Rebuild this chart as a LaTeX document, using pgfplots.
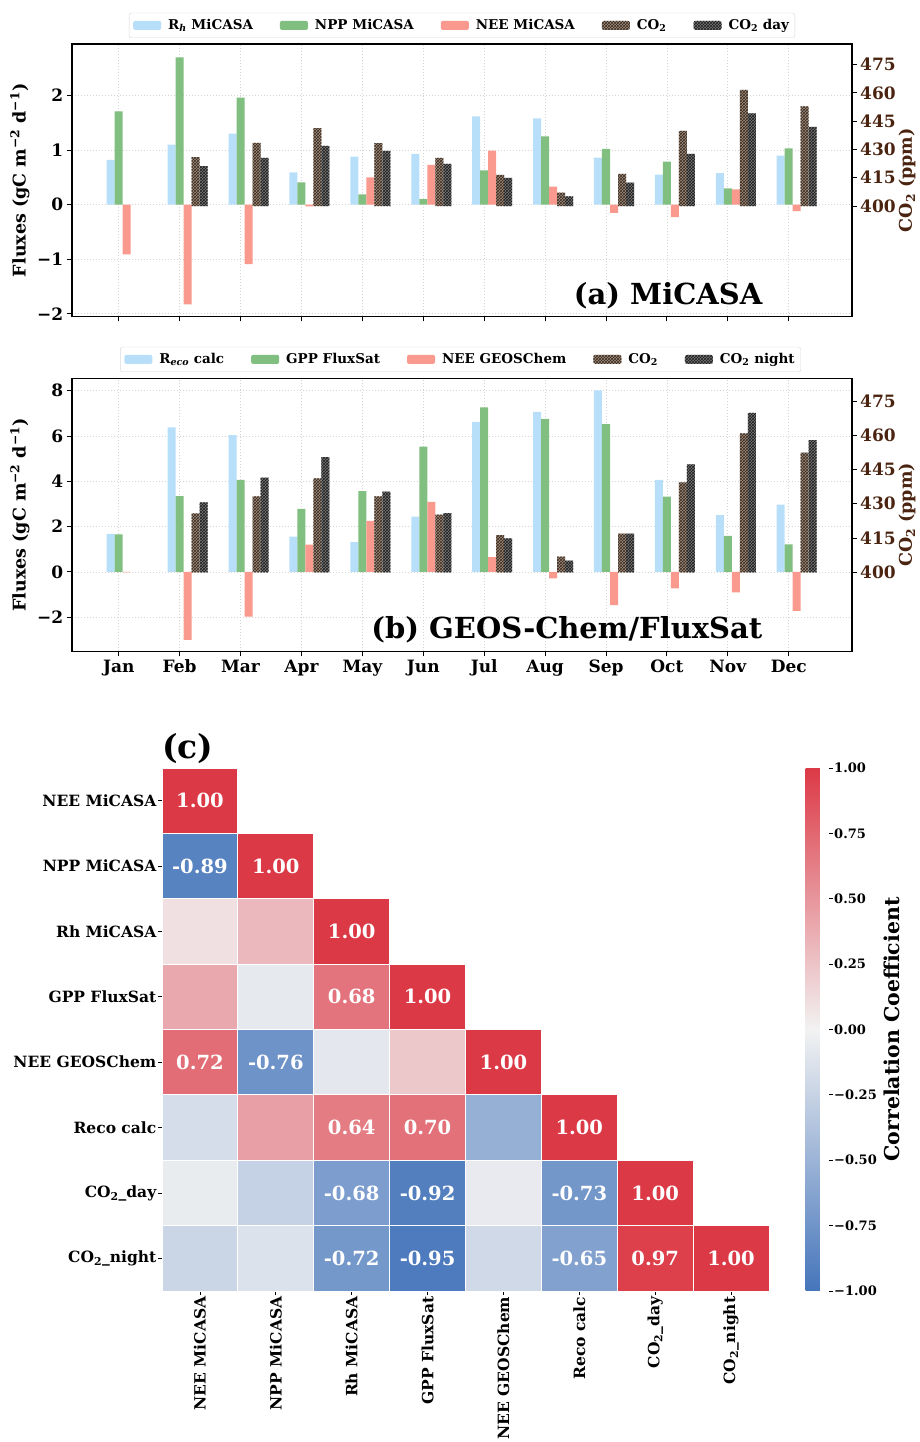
\documentclass[border=0pt]{standalone}
\usepackage{pgfplots}
\pgfplotsset{compat=1.18}
\usetikzlibrary{patterns}
\usepackage{fontspec}
\setmainfont{DejaVu Serif}
\definecolor{rhc}{HTML}{B8DFFA}
\definecolor{nppc}{HTML}{80BF80}
\definecolor{neec}{HTML}{FA9A8E}
\definecolor{co2c}{HTML}{A08D7C}
\definecolor{co2p}{HTML}{3A2B22}
\definecolor{dayc}{HTML}{777777}
\definecolor{dayp}{HTML}{1E1E1E}
\definecolor{ppmc}{HTML}{4A2410}
\definecolor{gridc}{HTML}{D5D5D5}
\newcommand{\fs}[1]{\fontsize{#1}{#1}\selectfont\bfseries}
\pgfdeclareplotmark{cell}{\pgfpathrectangle{\pgfpoint{-37.94pt}{-32.69pt}}{\pgfpoint{75.875pt}{65.375pt}}\pgfusepathqfillstroke}
\pgfplotsset{
  barleg/.style={legend image code/.code={\path[##1, draw=none] (0pt,-4.5pt) rectangle (28pt,4.5pt);}},
  common/.style={
    scale only axis, width=780pt,
    xmin=-0.772, xmax=12.034,
    ybar, bar width=0.1314,
    tick align=outside, major tick length=5pt,
    tick style={line width=1pt, black},
    xtick={0,...,11},
  },
  leftax/.style={
    common,
    axis line style={line width=1.6pt},
    grid=major, grid style={gridc, dash pattern=on 1.5pt off 1.5pt, line width=0.8pt},
    ticklabel style={font=\fs{17}},
    xtick pos=bottom, ytick pos=left,
    ylabel={Fluxes (gC m\textsuperscript{−2} d\textsuperscript{−1})},
    ylabel style={font=\fs{17.5}, at={(axis description cs:-0.0663,0.5)}, anchor=center},
    legend columns=5,
    legend style={draw=gray!30, rounded corners=2pt, fill=white, font=\fs{13.5},
      inner xsep=4pt, inner ysep=4.5pt,
      /tikz/every odd column/.append style={column sep=5pt},
      /tikz/every even column/.append style={column sep=25pt}},
  },
  rightax/.style={
    common,
    axis x line=none, axis y line*=right,
    axis line style={line width=1.6pt},
    tick align=outside,
    y coord trafo/.code={\pgfmathparse{##1-400}},
    y coord inv trafo/.code={\pgfmathparse{##1+400}},
    ytick={400,415,430,445,460,475},
    yticklabels={400,415,430,445,460,475},
    yticklabel style={font=\fs{17}, text=ppmc},
    ylabel={CO\textsubscript{2} (ppm)},
    ylabel style={font=\fs{17.5}, text=ppmc, at={(axis description cs:1.071,0.5)}, anchor=center},
  },
}
\begin{document}
\begin{tikzpicture}
\path[use as bounding box] (0,0) rectangle (920pt,1442pt);
% ---------------- panel (a) -----------------
\begin{axis}[leftax, height=272.5pt, at={(71.7pt,1125.5pt)}, anchor=south west,
  ymin=-2.05, ymax=2.945, ytick={-2,-1,0,1,2}, yticklabels={−2,−1,0,1,2},
  xticklabels={},
  legend style={at={(0.5004,1)}, anchor=south, yshift=6pt}]
\addplot[barleg, fill=rhc, draw=none, bar shift=-0.1314] coordinates {
(0,0.82) (1,1.10) (2,1.30) (3,0.59) (4,0.88) (5,0.93) (6,1.62) (7,1.58) (8,0.86) (9,0.55) (10,0.58) (11,0.90)};
\addlegendentry{R\textsubscript{\textit{h}} MiCASA}
\addplot[barleg, fill=nppc, draw=none, bar shift=0] coordinates {
(0,1.71) (1,2.70) (2,1.96) (3,0.41) (4,0.19) (5,0.10) (6,0.63) (7,1.25) (8,1.02) (9,0.79) (10,0.30) (11,1.03)};
\addlegendentry{NPP MiCASA}
\addplot[barleg, fill=neec, draw=none, bar shift=0.1314] coordinates {
(0,-0.91) (1,-1.83) (2,-1.09) (3,-0.03) (4,0.50) (5,0.73) (6,0.99) (7,0.33) (8,-0.15) (9,-0.23) (10,0.28) (11,-0.12)};
\addlegendentry{NEE MiCASA}
\addlegendimage{barleg, fill=co2c, draw=none, postaction={pattern=crosshatch, pattern color=co2p}}
\addlegendentry{CO\textsubscript{2}}
\addlegendimage{barleg, fill=dayc, draw=none, postaction={pattern=crosshatch, pattern color=dayp}}
\addlegendentry{CO\textsubscript{2} day}
\node[anchor=east, font=\fs{29}] at (rel axis cs:0.890,0.077) {(a) MiCASA};
\node[anchor=south west, font=\fontsize{5}{5}\selectfont, text=gray, inner sep=0.5pt] at (axis description cs:0,1) {1e6};
\end{axis}
\begin{axis}[rightax, height=272.5pt, at={(71.7pt,1125.5pt)}, anchor=south west,
  ymin=341.5, ymax=485.9]
\addplot[fill=co2c, draw=none, bar shift=0.2628, postaction={pattern=crosshatch, pattern color=co2p}] coordinates {
(1,425.9) (2,433.5) (3,441.3) (4,433.4) (5,425.6) (6,416.6) (7,407.1) (8,417.1) (9,439.9) (10,461.6) (11,452.8)};
\addplot[fill=dayc, draw=none, bar shift=0.3942, postaction={pattern=crosshatch, pattern color=dayp}] coordinates {
(1,421.2) (2,425.6) (3,431.9) (4,429.3) (5,422.4) (6,415.0) (7,405.1) (8,412.4) (9,427.7) (10,449.1) (11,442.0)};
\end{axis}
% ---------------- panel (b) -----------------
\begin{axis}[leftax, height=273pt, at={(71.7pt,790.5pt)}, anchor=south west,
  ymin=-3.51, ymax=8.54, ytick={-2,0,2,4,6,8}, yticklabels={−2,0,2,4,6,8},
  xticklabels={Jan,Feb,Mar,Apr,May,Jun,Jul,Aug,Sep,Oct,Nov,Dec},
  legend style={at={(0.4985,1)}, anchor=south, yshift=6.5pt}]
\addplot[barleg, fill=rhc, draw=none, bar shift=-0.1314] coordinates {
(0,1.68) (1,6.38) (2,6.04) (3,1.56) (4,1.32) (5,2.44) (6,6.63) (7,7.07) (8,8.01) (9,4.07) (10,2.51) (11,2.97)};
\addlegendentry{R\textsubscript{\textit{eco}} calc}
\addplot[barleg, fill=nppc, draw=none, bar shift=0] coordinates {
(0,1.66) (1,3.35) (2,4.06) (3,2.79) (4,3.57) (5,5.53) (6,7.26) (7,6.76) (8,6.53) (9,3.32) (10,1.59) (11,1.22)};
\addlegendentry{GPP FluxSat}
\addplot[barleg, fill=neec, draw=none, bar shift=0.1314] coordinates {
(0,-0.02) (1,-3.00) (2,-1.97) (3,1.21) (4,2.25) (5,3.09) (6,0.65) (7,-0.28) (8,-1.46) (9,-0.72) (10,-0.90) (11,-1.72)};
\addlegendentry{NEE GEOSChem}
\addlegendimage{barleg, fill=co2c, draw=none, postaction={pattern=crosshatch, pattern color=co2p}}
\addlegendentry{CO\textsubscript{2}}
\addlegendimage{barleg, fill=dayc, draw=none, postaction={pattern=crosshatch, pattern color=dayp}}
\addlegendentry{CO\textsubscript{2} night}
\node[anchor=east, font=\fs{29}] at (rel axis cs:0.890,0.081) {(b) GEOS-Chem/FluxSat};
\end{axis}
\begin{axis}[rightax, height=273pt, at={(71.7pt,790.5pt)}, anchor=south west,
  ymin=365.3, ymax=484.9]
\addplot[fill=co2c, draw=none, bar shift=0.2628, postaction={pattern=crosshatch, pattern color=co2p}] coordinates {
(1,425.8) (2,433.3) (3,441.1) (4,433.2) (5,425.3) (6,416.3) (7,406.9) (8,416.9) (9,439.4) (10,460.9) (11,452.4)};
\addplot[fill=dayc, draw=none, bar shift=0.3942, postaction={pattern=crosshatch, pattern color=dayp}] coordinates {
(1,430.6) (2,441.5) (3,450.5) (4,435.3) (5,425.9) (6,414.9) (7,405.1) (8,416.9) (9,447.3) (10,469.8) (11,457.9)};
\end{axis}
% ---------------- panel (c) -----------------
\begin{axis}[at={(162pt,151pt)}, anchor=south west, scale only axis, width=607pt, height=523pt,
  xmin=-0.5, xmax=7.5, ymin=-0.5, ymax=7.5, y dir=reverse,
  axis line style={draw=none}, clip=false,
  tick align=outside, major tick length=4pt, tick style={black, line width=0.8pt},
  xtick={0,...,7}, ytick={0,...,7}, xtick pos=bottom, ytick pos=left,
  xticklabels={NEE MiCASA,NPP MiCASA,Rh MiCASA,GPP FluxSat,NEE GEOSChem,Reco calc,CO\textsubscript{2}\_day,CO\textsubscript{2}\_night},
  yticklabels={NEE MiCASA,NPP MiCASA,Rh MiCASA,GPP FluxSat,NEE GEOSChem,Reco calc,CO\textsubscript{2}\_day,CO\textsubscript{2}\_night},
  xticklabel style={rotate=90, anchor=east, font=\fs{15.5}, inner sep=1.5pt},
  yticklabel style={font=\fs{15.5}, inner sep=1.5pt},
  colormap={corr}{rgb255(0)=(69,117,187) rgb255(1)=(242,242,242) rgb255(2)=(220,57,70)},
  point meta min=-1, point meta max=1,
  colorbar,
  colorbar style={at={(parent axis.north east)}, anchor=north west, xshift=28pt,
    width=27pt, height=523pt, y dir=normal,
    ytick={-1,-0.75,-0.5,-0.25,0,0.25,0.5,0.75,1},
    yticklabels={−1.00,−0.75,−0.50,−0.25,0.00,0.25,0.50,0.75,1.00},
    ytick pos=right, yticklabel pos=right,
    yticklabel style={font=\fs{13}, inner sep=1.5pt, rotate=0, anchor=west},
    xticklabel style={rotate=0},
    axis line style={draw=none}, major tick length=3.5pt, tick style={black, line width=0.8pt},
    ylabel={Correlation Coefficient},
    ylabel style={font=\fs{20.5}, at={(axis description cs:3.19,0.5)}, anchor=center, rotate=0}},
]
\addplot[scatter, only marks, mark=cell, point meta=explicit,
  scatter/use mapped color={draw=white, fill=mapped color}, mark options={line width=0.8pt}] coordinates {
(0,0) [1.00]
(0,1) [-0.89] (1,1) [1.00]
(0,2) [0.10] (1,2) [0.31] (2,2) [1.00]
(0,3) [0.40] (1,3) [-0.07] (2,3) [0.68] (3,3) [1.00]
(0,4) [0.72] (1,4) [-0.76] (2,4) [-0.08] (3,4) [0.23] (4,4) [1.00]
(0,5) [-0.17] (1,5) [0.45] (2,5) [0.64] (3,5) [0.70] (4,5) [-0.53] (5,5) [1.00]
(0,6) [-0.05] (1,6) [-0.26] (2,6) [-0.68] (3,6) [-0.92] (4,6) [-0.06] (5,6) [-0.73] (6,6) [1.00]
(0,7) [-0.23] (1,7) [-0.13] (2,7) [-0.72] (3,7) [-0.95] (4,7) [-0.20] (5,7) [-0.65] (6,7) [0.97] (7,7) [1.00]
};
\addplot[only marks, mark=*, mark size=0pt, mark options={draw=none, fill=none}, point meta=explicit symbolic,
  nodes near coords, nodes near coords style={anchor=center, text=white, font=\fs{19.5}}] coordinates {
(0,0) [1.00]
(0,1) [-0.89] (1,1) [1.00]
(2,2) [1.00]
(2,3) [0.68] (3,3) [1.00]
(0,4) [0.72] (1,4) [-0.76] (4,4) [1.00]
(2,5) [0.64] (3,5) [0.70] (5,5) [1.00]
(2,6) [-0.68] (3,6) [-0.92] (5,6) [-0.73] (6,6) [1.00]
(2,7) [-0.72] (3,7) [-0.95] (5,7) [-0.65] (6,7) [0.97] (7,7) [1.00]
};
\node[anchor=south west, font=\fs{33}, inner sep=0pt] at ([yshift=4pt]axis description cs:0,1) {(c)};
\end{axis}
\end{tikzpicture}
\end{document}
